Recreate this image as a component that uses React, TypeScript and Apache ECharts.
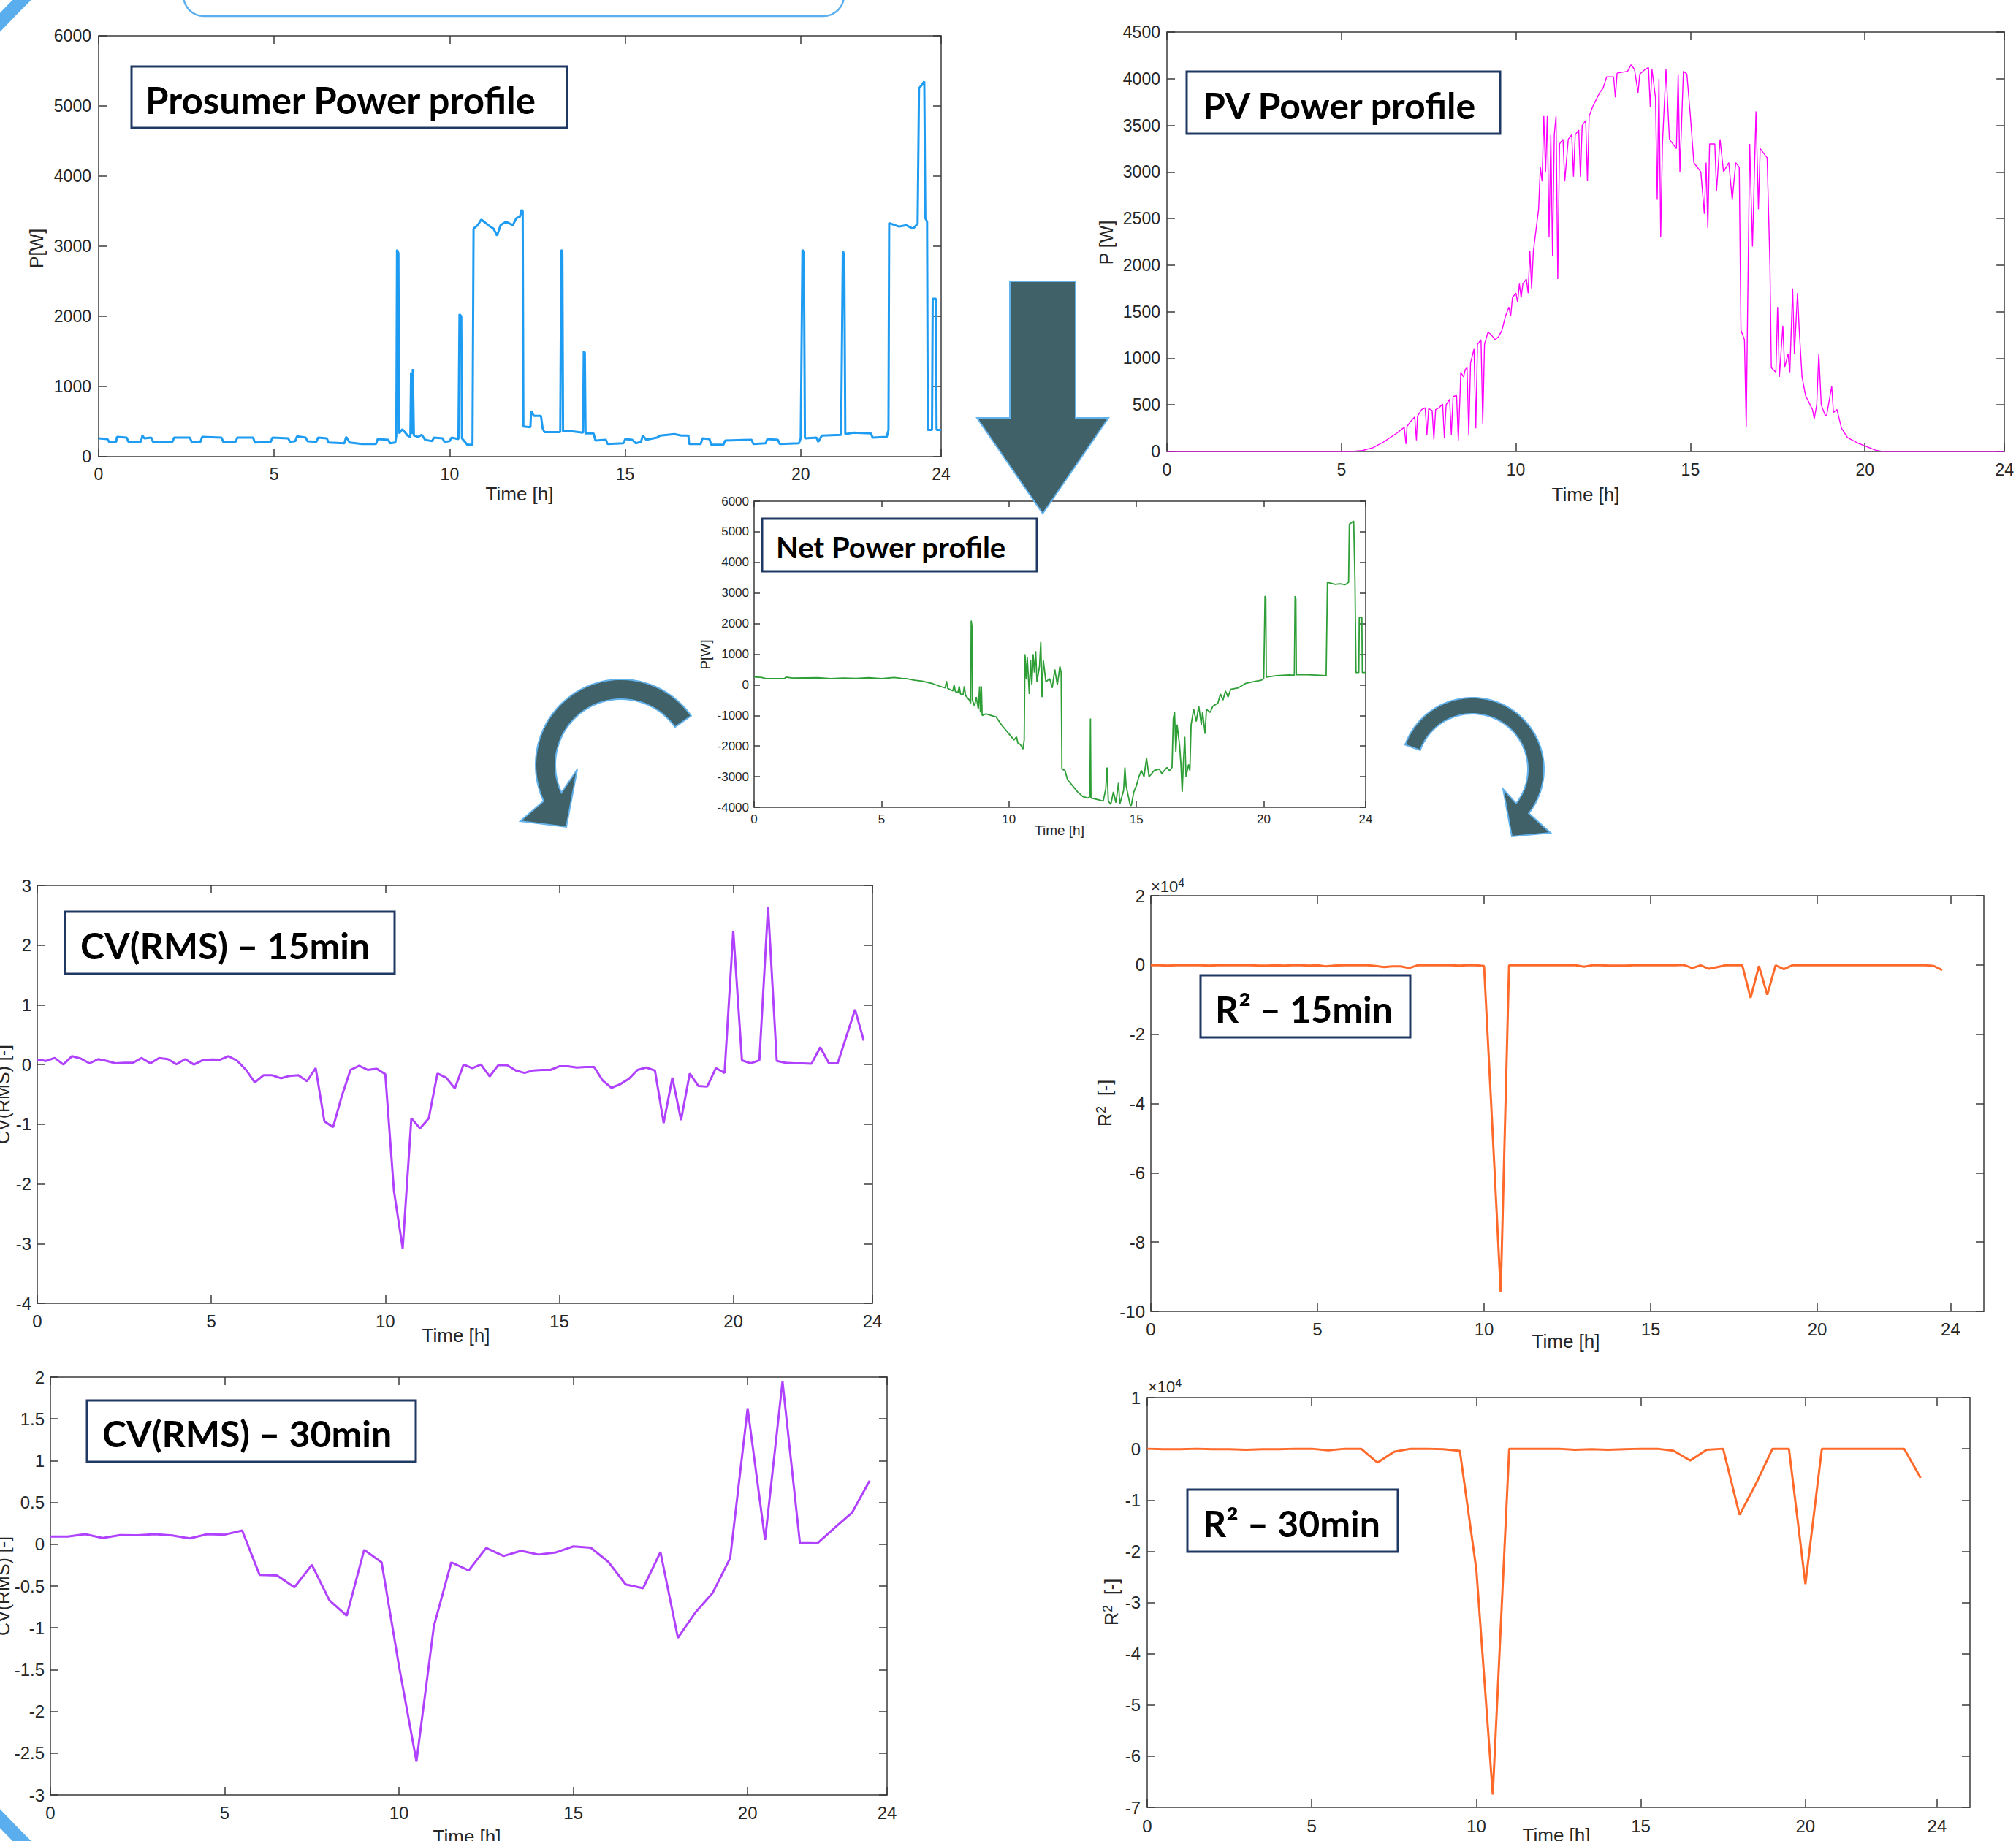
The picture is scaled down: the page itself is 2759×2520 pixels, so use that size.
import React, { useEffect, useRef } from "react";
import * as echarts from "echarts";

// ---------------- DATA ----------------
const X_TICKS = [0, 5, 10, 15, 20, 24];

// Prosumer power profile [h, W]
const prosumerT = [0,0.25,0.3,0.5,0.52,0.8,0.85,1.2,1.25,1.3,1.5,1.55,2.1,2.15,2.6,2.65,2.9,2.95,3.5,3.55,3.9,3.95,4.4,4.45,4.9,4.95,5.4,5.45,5.6,5.65,5.9,5.95,6.2,6.25,6.5,6.55,7.0,7.05,7.15,7.5,7.9,7.95,8.25,8.3,8.45,8.48,8.5,8.54,8.56,8.65,8.72,8.8,8.88,8.9,8.93,8.95,8.98,9.1,9.2,9.3,9.5,9.55,9.8,9.85,10.0,10.05,10.25,10.28,10.33,10.35,10.45,10.5,10.65,10.68,10.8,10.9,11.1,11.25,11.35,11.45,11.6,11.8,11.9,12.0,12.05,12.08,12.1,12.3,12.32,12.4,12.6,12.65,12.7,13.15,13.18,13.21,13.23,13.5,13.8,13.82,13.85,13.87,14.1,14.15,14.45,14.5,14.95,15.0,15.2,15.3,15.45,15.5,15.6,15.7,15.9,16.0,16.4,16.6,16.8,16.82,17.15,17.2,17.4,17.45,17.8,17.85,18.6,18.65,19.0,19.05,19.35,19.4,19.95,20.0,20.05,20.09,20.12,20.45,20.5,20.6,21.15,21.2,21.24,21.27,21.5,22.0,22.05,22.45,22.5,22.52,22.8,23.0,23.2,23.33,23.37,23.45,23.52,23.55,23.6,23.62,23.74,23.76,23.85,23.87,24];
const prosumerP = [260,250,210,210,280,270,210,210,300,260,270,210,210,270,270,210,210,280,270,210,210,270,270,200,210,270,260,210,220,290,270,220,210,270,260,200,190,280,200,180,180,250,240,190,200,300,2950,2900,330,390,350,300,280,1200,320,1250,300,280,310,240,220,270,260,210,220,270,250,2030,2000,260,200,170,170,3250,3300,3380,3300,3250,3150,3300,3350,3300,3400,3420,3520,3500,430,420,650,580,580,400,350,350,2950,2900,360,360,340,1500,1480,330,330,230,240,180,190,250,240,190,210,300,240,250,270,300,320,300,300,180,180,260,250,170,170,230,240,180,190,250,240,180,190,260,2950,2900,260,270,210,300,310,2930,2880,320,340,330,270,280,380,3330,3280,3300,3250,3320,5250,5300,5350,3400,3350,380,380,2250,2250,380,380];

// PV power profile [h, W]
const pvT = [0,5.3,5.6,5.9,6.2,6.4,6.6,6.8,6.85,6.88,7.0,7.1,7.15,7.18,7.3,7.4,7.45,7.5,7.6,7.65,7.7,7.8,7.9,7.95,8.0,8.1,8.15,8.2,8.3,8.35,8.4,8.42,8.5,8.55,8.6,8.65,8.7,8.8,8.85,8.9,9.0,9.05,9.1,9.2,9.3,9.4,9.5,9.6,9.7,9.8,9.85,9.9,10.0,10.05,10.1,10.15,10.2,10.3,10.35,10.4,10.45,10.5,10.55,10.65,10.7,10.75,10.8,10.85,10.9,10.95,11.0,11.05,11.1,11.15,11.2,11.25,11.35,11.4,11.5,11.6,11.65,11.7,11.8,11.85,11.9,12.0,12.05,12.1,12.2,12.4,12.5,12.6,12.8,12.85,12.9,13.2,13.3,13.4,13.5,13.55,13.7,13.8,13.85,13.9,14.0,14.05,14.1,14.15,14.2,14.3,14.4,14.5,14.6,14.65,14.7,14.8,14.9,15.0,15.1,15.2,15.3,15.4,15.45,15.5,15.55,15.7,15.75,15.85,15.95,16.1,16.2,16.3,16.4,16.45,16.55,16.6,16.63,16.7,16.78,16.88,16.95,17.0,17.2,17.28,17.32,17.45,17.5,17.55,17.65,17.7,17.8,17.85,17.93,17.98,18.07,18.12,18.2,18.3,18.5,18.55,18.62,18.68,18.75,18.85,18.9,19.05,19.1,19.2,19.33,19.5,19.8,20.0,20.3,20.5,24];
const pvP = [0,0,10,40,100,150,200,260,80,270,330,370,120,380,450,470,180,460,440,130,450,470,510,150,500,560,180,590,600,120,620,850,800,880,900,180,950,1100,250,1150,1200,300,1150,1280,1250,1200,1230,1300,1450,1550,1450,1650,1700,1600,1800,1650,1800,1850,1700,2150,1750,2150,2300,2600,3050,2900,3600,3000,3600,2300,3400,2100,3400,3600,1850,3300,3350,2900,3350,3400,2950,3400,3450,2950,3500,3550,2900,3600,3700,3850,3900,4020,4020,3800,4060,4080,4150,4100,3850,4050,4100,4120,3700,4100,3800,2700,4000,2300,3300,4100,3350,3300,3250,4050,3000,4080,4050,3600,3100,3050,3000,2550,3100,2400,3300,3300,2800,3350,3000,3100,2700,3100,3050,1300,1200,260,1200,3300,2200,3650,2600,3250,3150,2000,900,850,1550,800,1350,900,1050,850,1750,1050,1700,1300,800,600,450,350,500,1050,500,400,380,700,420,450,250,150,90,60,15,0,0];

// Net power profile [h, W]
const netT = [0,0.3,0.5,1.2,1.25,1.5,2.5,3.0,3.5,4.0,4.5,5.0,5.5,5.8,6.0,6.3,6.6,7.0,7.3,7.5,7.55,7.6,7.8,7.85,7.9,8.0,8.05,8.1,8.2,8.25,8.3,8.45,8.5,8.52,8.55,8.57,8.65,8.72,8.8,8.85,8.88,8.92,8.95,9.1,9.3,9.5,9.7,9.9,10.0,10.2,10.3,10.35,10.45,10.55,10.6,10.63,10.68,10.72,10.8,10.85,10.9,10.95,11.0,11.05,11.1,11.2,11.25,11.3,11.35,11.45,11.6,11.7,11.8,11.9,12.0,12.05,12.08,12.2,12.3,12.5,12.7,12.9,13.1,13.18,13.2,13.22,13.5,13.7,13.8,13.85,13.9,14.0,14.1,14.2,14.3,14.35,14.5,14.55,14.6,14.75,14.8,14.9,15.0,15.1,15.2,15.3,15.4,15.5,15.7,15.9,16.0,16.2,16.3,16.4,16.45,16.5,16.55,16.6,16.7,16.75,16.8,16.85,16.9,16.95,17.05,17.1,17.15,17.25,17.35,17.45,17.55,17.6,17.7,17.75,17.9,18.0,18.2,18.3,18.4,18.5,18.6,18.7,19.0,19.3,19.6,19.9,20.0,20.05,20.08,20.1,20.5,21.0,21.2,21.23,21.26,21.28,21.7,22.2,22.45,22.5,22.8,23.0,23.2,23.33,23.36,23.45,23.53,23.58,23.62,23.73,23.75,23.85,23.87,24];
const netP = [260,240,200,210,250,220,230,200,220,210,230,200,240,210,200,150,120,40,-50,-100,120,-120,-200,0,-220,-250,-50,-300,-320,-50,-350,-500,-600,2100,1900,-500,-700,-400,-800,-50,-900,-50,-1000,-950,-1000,-1050,-1300,-1500,-1600,-1800,-1700,-1900,-1950,-2100,-1800,1000,200,900,-300,800,0,1000,400,1100,100,600,1400,-400,800,100,200,-100,500,0,600,400,-2750,-2800,-3100,-3300,-3500,-3650,-3700,-3650,-1100,-3700,-3750,-3800,-3400,-2700,-3800,-3900,-3500,-3850,-3200,-3900,-3450,-2700,-3300,-3900,-3950,-3500,-3300,-3000,-2800,-3000,-2400,-3000,-2800,-2750,-2900,-2700,-2800,-2700,-1100,-900,-2200,-1300,-2000,-2600,-3500,-2500,-1700,-3000,-2600,-2800,-1300,-800,-1200,-700,-1300,-900,-1600,-800,-900,-700,-600,-300,-500,-200,-400,-150,-100,50,100,150,200,2900,2850,250,300,320,310,2900,2800,330,330,310,300,3350,3280,3300,3270,3350,5250,5300,5350,3400,400,400,2200,2200,400,400];

// CV(RMS) 15-min values (every 0.25 h from 0 h)
const cv15 = [0.085,0.06,0.11,0.0,0.14,0.1,0.02,0.09,0.06,0.02,0.03,0.03,0.11,0.02,0.11,0.09,0.005,0.09,0.0,0.07,0.085,0.08,0.14,0.06,
  -0.09,-0.3,-0.18,-0.18,-0.23,-0.19,-0.18,-0.28,-0.06,-0.95,-1.05,-0.53,-0.09,-0.02,-0.09,-0.07,-0.16,-2.12,-3.08,-0.9,-1.07,-0.9,-0.15,-0.22,
  -0.4,0.0,-0.06,0.0,-0.2,-0.01,-0.01,-0.1,-0.14,-0.1,-0.09,-0.09,-0.03,-0.03,-0.05,-0.04,-0.04,-0.27,-0.39,-0.33,-0.24,-0.09,-0.05,-0.1,
  -0.98,-0.22,-0.93,-0.15,-0.36,-0.37,-0.06,-0.14,2.24,0.07,0.02,0.07,2.64,0.06,0.03,0.02,0.02,0.015,0.29,0.02,0.02,0.47,0.92,0.4];

// CV(RMS) 30-min values (every 0.5 h from 0 h)
const cv30 = [0.093,0.093,0.12,0.075,0.11,0.108,0.12,0.105,0.07,0.12,0.115,0.164,
  -0.366,-0.373,-0.515,-0.246,-0.67,-0.855,-0.067,-0.216,-1.46,-2.6,-0.98,-0.216,
  -0.313,-0.045,-0.14,-0.078,-0.123,-0.097,-0.026,-0.041,-0.209,-0.48,-0.526,-0.093,
  -1.12,-0.817,-0.58,-0.164,1.627,0.052,1.948,0.015,0.011,0.198,0.38,0.76];

// R² 15-min values, x10^4 (every 0.25 h)
const r2q15 = [-0.01,-0.01,-0.02,-0.01,-0.01,-0.01,-0.01,-0.02,-0.01,-0.01,-0.01,-0.01,-0.01,-0.02,-0.02,-0.01,-0.02,-0.01,-0.01,-0.02,-0.01,-0.04,-0.02,-0.01,-0.01,-0.01,-0.01,-0.03,
  -0.06,-0.04,-0.04,-0.09,
  -0.01,-0.01,-0.01,-0.01,-0.01,-0.02,-0.01,-0.01,
  -0.03,-4.7,-9.45,-0.01,
  -0.01,-0.01,-0.01,-0.01,-0.01,-0.01,-0.01,-0.01,
  -0.05,-0.01,
  -0.01,-0.02,-0.02,-0.02,-0.01,-0.01,-0.01,-0.01,-0.01,-0.01,
  0,-0.09,-0.01,-0.11,-0.06,-0.01,-0.01,-0.01,-0.95,-0.03,-0.86,-0.01,-0.12,-0.01,-0.01,-0.01,
  -0.01,-0.01,-0.01,-0.01,-0.01,-0.01,-0.01,-0.01,-0.01,-0.01,-0.01,-0.01,-0.01,-0.01,-0.03,-0.15];

// R² 30-min values, x10^4 (every 0.5 h)
const r2q30 = [0,-0.01,-0.01,0,-0.01,-0.01,-0.02,-0.01,-0.01,0,0,-0.03,0,0,
  -0.27,-0.06,0,0,-0.01,-0.04,-2.35,-6.75,
  0,0,0,0,-0.02,-0.01,-0.02,-0.01,0,0,-0.04,-0.23,-0.02,0,
  -1.29,-0.68,0,0,-2.64,0,0,0,0,0,0,-0.57];

// ---------------- LAYOUT / STYLE ----------------
const FONT = "'Liberation Sans', Arial, Helvetica, sans-serif";
const TFONT = "Lato, 'Open Sans', sans-serif";
const AX = "#3a3a3a";
const TXT = "#262626";
const ARROW = "#3F6167";
const ARROW_EDGE = "#63B2EC";
const DECO = "#5AAEEE";

type Panel = {
  left: number; top: number; width: number; height: number; xMax: number;
  yMin: number; yMax: number; yInt: number; fs: number; tick: number; xm: number; ym: number;
};

const panels: Panel[] = [
  { left: 135, top: 49, width: 1153, height: 576, xMax: 24, yMin: 0, yMax: 6000, yInt: 1000, fs: 23, tick: 11, xm: 12, ym: 10 },
  { left: 1597, top: 44, width: 1148, height: 574, xMax: 24, yMin: 0, yMax: 4500, yInt: 500, fs: 23, tick: 11, xm: 13, ym: 9 },
  { left: 1032, top: 686, width: 837, height: 419, xMax: 24, yMin: -4000, yMax: 6000, yInt: 1000, fs: 17, tick: 8, xm: 8, ym: 7 },
  { left: 51, top: 1212, width: 1143, height: 572, xMax: 24, yMin: -4, yMax: 3, yInt: 1, fs: 24, tick: 11, xm: 12, ym: 8 },
  { left: 1575, top: 1226, width: 1140, height: 569, xMax: 25, yMin: -10, yMax: 2, yInt: 2, fs: 24, tick: 11, xm: 12, ym: 8 },
  { left: 69, top: 1885, width: 1145, height: 572, xMax: 24, yMin: -3, yMax: 2, yInt: 0.5, fs: 24, tick: 11, xm: 12, ym: 8 },
  { left: 1570, top: 1913, width: 1126, height: 561, xMax: 25, yMin: -7, yMax: 1, yInt: 1, fs: 24, tick: 11, xm: 13, ym: 9 },
];

function pairs(t: number[], v: number[]) {
  return t.map((x, i) => [x, v[i]]);
}
function sampled(v: number[], step: number) {
  return v.map((y, i) => [i * step, y]);
}

function ringArrow(cx: number, cy: number, R: number, r: number, a0: number, a1: number, head: number[][]) {
  const pts: number[][] = [];
  const n = 60;
  for (let k = 0; k <= n; k++) {
    const a = ((a0 + ((a1 - a0) * k) / n) * Math.PI) / 180;
    pts.push([cx + R * Math.cos(a), cy + R * Math.sin(a)]);
  }
  head.forEach((p) => pts.push(p));
  for (let k = n; k >= 0; k--) {
    const a = ((a0 + ((a1 - a0) * k) / n) * Math.PI) / 180;
    pts.push([cx + r * Math.cos(a), cy + r * Math.sin(a)]);
  }
  return pts;
}

const plain = (v: number) => String(Math.round(v * 1000) / 1000);

function buildOption() {
  const grid: any[] = [];
  const xAxis: any[] = [];
  const yAxis: any[] = [];
  panels.forEach((p, gi) => {
    grid.push({ left: p.left, top: p.top, width: p.width, height: p.height, containLabel: false });
    const line = { show: true, onZero: false, lineStyle: { color: AX, width: 1.5 } };
    const tickBase = { show: true, inside: true, length: p.tick, lineStyle: { color: AX, width: 1.5 } };
    const lbl = { color: TXT, fontSize: p.fs, fontFamily: FONT, formatter: plain };
    xAxis.push({
      type: "value", gridIndex: gi, position: "bottom", min: 0, max: p.xMax,
      axisLine: line, splitLine: { show: false },
      axisTick: { ...tickBase, customValues: X_TICKS },
      axisLabel: { ...lbl, margin: p.xm, customValues: X_TICKS },
    });
    xAxis.push({
      type: "value", gridIndex: gi, position: "top", min: 0, max: p.xMax,
      axisLine: line, splitLine: { show: false },
      axisTick: { ...tickBase, customValues: X_TICKS },
      axisLabel: { show: false },
    });
    yAxis.push({
      type: "value", gridIndex: gi, position: "left", min: p.yMin, max: p.yMax, interval: p.yInt,
      axisLine: line, splitLine: { show: false }, axisTick: tickBase,
      axisLabel: { ...lbl, margin: p.ym },
    });
    yAxis.push({
      type: "value", gridIndex: gi, position: "right", min: p.yMin, max: p.yMax, interval: p.yInt,
      axisLine: line, splitLine: { show: false }, axisTick: tickBase,
      axisLabel: { show: false },
    });
  });

  const mk = (gi: number, name: string, data: any[], color: string, width: number) => ({
    type: "line", name, xAxisIndex: gi * 2, yAxisIndex: gi * 2, data,
    showSymbol: false, symbol: "none", lineStyle: { color, width }, itemStyle: { color },
    clip: true, silent: true,
  });

  const series = [
    mk(0, "Prosumer", pairs(prosumerT, prosumerP), "#1E9CF2", 3),
    mk(1, "PV", pairs(pvT, pvP), "#FF00FF", 1.4),
    mk(2, "Net", pairs(netT, netP), "#2E9E36", 1.8),
    mk(3, "CV15", sampled(cv15, 0.25), "#B042FF", 3),
    mk(4, "R2_15", sampled(r2q15, 0.25), "#FF6A2B", 3),
    mk(5, "CV30", sampled(cv30, 0.5), "#B042FF", 3),
    mk(6, "R2_30", sampled(r2q30, 0.5), "#FF6A2B", 3),
  ];

  const titles = [
    { box: [180, 91, 596, 84], text: "Prosumer Power profile", tx: 199, fs: 51 },
    { box: [1624, 98, 429, 85], text: "PV Power profile", tx: 1646, fs: 50 },
    { box: [1043, 710, 376, 72], text: "Net Power profile", tx: 1062, fs: 40 },
    { box: [89, 1248, 451, 85], text: "CV(RMS) – 15min", tx: 110, fs: 50 },
    { box: [1643, 1335, 287, 85], text: "R² – 15min", tx: 1663, fs: 50 },
    { box: [119, 1917, 450, 84], text: "CV(RMS) – 30min", tx: 140, fs: 50 },
    { box: [1625, 2039, 288, 85], text: "R² – 30min", tx: 1646, fs: 50 },
  ];

  const graphic: any[] = [];
  // decorative frame elements
  graphic.push({
    type: "ellipse", z: -10, silent: true,
    shape: { cx: 1500, cy: 1260, rx: 2003, ry: 1855 },
    style: { fill: "none", stroke: DECO, lineWidth: 18 },
  });
  graphic.push({
    type: "rect", z: -10, silent: true,
    shape: { x: 251, y: -60, width: 904, height: 82, r: 28 },
    style: { fill: "none", stroke: DECO, lineWidth: 2.5 },
  });

  titles.forEach((t) => {
    const [x, y, w, h] = t.box;
    graphic.push({
      type: "rect", z: 50, shape: { x, y, width: w, height: h },
      style: { fill: "#ffffff", stroke: "#1F3864", lineWidth: 3 },
    });
    graphic.push({
      type: "text", z: 51, x: t.tx, y: y + h / 2 + 3,
      style: { text: t.text, fill: "#000000", fontSize: t.fs, fontWeight: "bold", fontFamily: TFONT, align: "left", verticalAlign: "middle" },
    });
  });

  const axisText = (text: string, x: number, y: number, fs: number, rot = 0, rich?: any) => ({
    type: "text", z: 40, x, y, rotation: rot,
    style: { text, fill: TXT, fontSize: fs, fontFamily: FONT, align: "center", verticalAlign: "middle", rich },
  });
  const V = Math.PI / 2;
  const supRich = (fs: number) => ({ s: { fontSize: fs, fontFamily: FONT, fill: TXT, verticalAlign: "top", padding: [0, 0, 10, 0] } });

  graphic.push(axisText("Time [h]", 711, 676, 26));
  graphic.push(axisText("P[W]", 50, 340, 25, V));
  graphic.push(axisText("Time [h]", 2170, 677, 26));
  graphic.push(axisText("P [W]", 1514, 332, 25, V));
  graphic.push(axisText("Time [h]", 1450, 1136, 19));
  graphic.push(axisText("P[W]", 965, 896, 19, V));
  graphic.push(axisText("Time [h]", 624, 1828, 26));
  graphic.push(axisText("CV(RMS) [-]", 4, 1498, 25, V));
  graphic.push(axisText("Time [h]", 2143, 1836, 26));
  graphic.push(axisText("R{s|2}  [-]", 1512, 1510, 25, V, supRich(18)));
  graphic.push(axisText("Time [h]", 639, 2514, 26));
  graphic.push(axisText("CV(RMS) [-]", 4, 2171, 25, V));
  graphic.push(axisText("Time [h]", 2130, 2512, 26));
  graphic.push(axisText("R{s|2}  [-]", 1521, 2193, 25, V, supRich(18)));
  graphic.push({
    type: "text", z: 40, x: 1575, y: 1213,
    style: { text: "×10{s|4}", fill: TXT, fontSize: 22, fontFamily: FONT, align: "left", verticalAlign: "middle", rich: supRich(16) },
  });
  graphic.push({
    type: "text", z: 40, x: 1571, y: 1898,
    style: { text: "×10{s|4}", fill: TXT, fontSize: 22, fontFamily: FONT, align: "left", verticalAlign: "middle", rich: supRich(16) },
  });

  // arrows
  graphic.push({
    type: "polygon", z: 60,
    shape: { points: [[1382, 385], [1472, 385], [1472, 572], [1517, 572], [1427, 703], [1337, 572], [1382, 572]] },
    style: { fill: ARROW, stroke: ARROW_EDGE, lineWidth: 2 },
  });
  graphic.push({
    type: "polygon", z: 60,
    shape: { points: ringArrow(850, 1047, 117, 90, -35, -205, [[712, 1124], [775, 1132], [790, 1053]]) },
    style: { fill: ARROW, stroke: ARROW_EDGE, lineWidth: 2 },
  });
  graphic.push({
    type: "polygon", z: 60,
    shape: { points: ringArrow(2015, 1053, 98, 76, -160, 38, [[2122, 1140], [2069, 1145], [2057, 1080]]) },
    style: { fill: ARROW, stroke: ARROW_EDGE, lineWidth: 2 },
  });

  return {
    animation: false,
    backgroundColor: "#ffffff",
    grid, xAxis, yAxis, series, graphic,
  };
}

export default function App() {
  const ref = useRef<HTMLDivElement>(null);
  useEffect(() => {
    if (!ref.current) return;
    const chart = echarts.init(ref.current, undefined, { renderer: "svg", width: 2759, height: 2520 });
    chart.setOption(buildOption() as any);
    return () => chart.dispose();
  }, []);
  return (
    <div
      ref={ref}
      style={{ position: "absolute", left: 0, top: 0, width: 2759, height: 2520, background: "#fff" }}
    />
  );
}
